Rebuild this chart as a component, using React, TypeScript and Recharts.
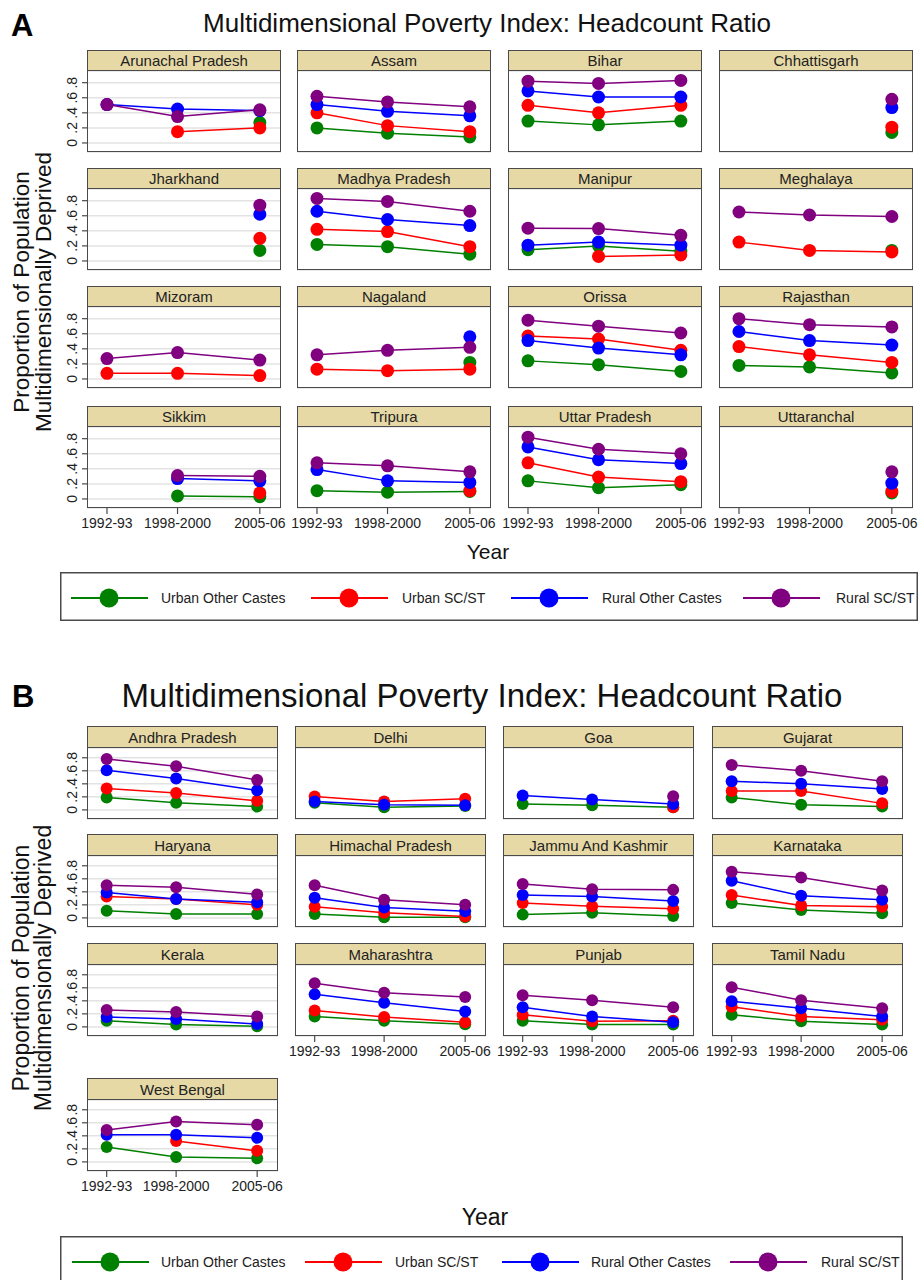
import React from 'react';
import { LineChart, Line, XAxis, YAxis, CartesianGrid } from 'recharts';

// ---- data ----
const years = [1993, 1999, 2006];
const yearLabels = ['1992-93', '1998-2000', '2005-06'];
const yTicks = [0, 0.2, 0.4, 0.6, 0.8];
const yTickLabels = ['0', '.2', '.4', '.6', '.8'];

const seriesKeys = ['urbanOther', 'urbanSC', 'ruralOther', 'ruralSC'];
const seriesNames = ['Urban Other Castes', 'Urban SC/ST', 'Rural Other Castes', 'Rural SC/ST'];
const seriesColors = ['#008000', '#ff0000', '#0000ff', '#800080'];

const statesA = [
  'Arunachal Pradesh', 'Assam', 'Bihar', 'Chhattisgarh',
  'Jharkhand', 'Madhya Pradesh', 'Manipur', 'Meghalaya',
  'Mizoram', 'Nagaland', 'Orissa', 'Rajasthan',
  'Sikkim', 'Tripura', 'Uttar Pradesh', 'Uttaranchal',
];
const statesB = [
  'Andhra Pradesh', 'Delhi', 'Goa', 'Gujarat',
  'Haryana', 'Himachal Pradesh', 'Jammu And Kashmir', 'Karnataka',
  'Kerala', 'Maharashtra', 'Punjab', 'Tamil Nadu',
  'West Bengal',
];

type V = (number | null)[];
const n = null;

const urbanOther: Record<string, V> = {
  'Arunachal Pradesh': [n, n, 0.27], 'Assam': [0.2, 0.13, 0.08], 'Bihar': [0.29, 0.24, 0.29], 'Chhattisgarh': [n, n, 0.14],
  'Jharkhand': [n, n, 0.14], 'Madhya Pradesh': [0.22, 0.19, 0.09], 'Manipur': [0.15, 0.2, 0.13], 'Meghalaya': [n, n, 0.14],
  'Mizoram': [n, n, n], 'Nagaland': [n, n, 0.22], 'Orissa': [0.24, 0.19, 0.1], 'Rajasthan': [0.18, 0.16, 0.08],
  'Sikkim': [n, 0.04, 0.03], 'Tripura': [0.11, 0.09, 0.1], 'Uttar Pradesh': [0.24, 0.15, 0.19], 'Uttaranchal': [n, n, 0.08],
  'Andhra Pradesh': [0.19, 0.11, 0.05], 'Delhi': [0.11, 0.04, 0.06], 'Goa': [0.09, 0.07, 0.04], 'Gujarat': [0.19, 0.08, 0.05],
  'Haryana': [0.11, 0.06, 0.06], 'Himachal Pradesh': [0.06, 0.01, 0.01], 'Jammu And Kashmir': [0.05, 0.08, 0.03], 'Karnataka': [0.23, 0.12, 0.07],
  'Kerala': [0.095, 0.035, 0.01], 'Maharashtra': [0.16, 0.095, 0.04], 'Punjab': [0.095, 0.035, 0.035], 'Tamil Nadu': [0.185, 0.085, 0.035],
  'West Bengal': [0.23, 0.075, 0.055],
};

const urbanSC: Record<string, V> = {
  'Arunachal Pradesh': [n, 0.15, 0.2], 'Assam': [0.4, 0.23, 0.15], 'Bihar': [0.5, 0.4, 0.5], 'Chhattisgarh': [n, n, 0.21],
  'Jharkhand': [n, n, 0.3], 'Madhya Pradesh': [0.42, 0.39, 0.19], 'Manipur': [n, 0.06, 0.08], 'Meghalaya': [0.25, 0.14, 0.12],
  'Mizoram': [0.075, 0.075, 0.045], 'Nagaland': [0.13, 0.11, 0.13], 'Orissa': [0.57, 0.53, 0.38], 'Rajasthan': [0.43, 0.32, 0.22],
  'Sikkim': [n, n, 0.08], 'Tripura': [n, n, 0.11], 'Uttar Pradesh': [0.48, 0.29, 0.23], 'Uttaranchal': [n, n, 0.1],
  'Andhra Pradesh': [0.33, 0.26, 0.14], 'Delhi': [0.205, 0.13, 0.17], 'Goa': [n, n, 0.04], 'Gujarat': [0.29, 0.29, 0.1],
  'Haryana': [0.33, 0.29, 0.2], 'Himachal Pradesh': [0.17, 0.08, 0.02], 'Jammu And Kashmir': [0.23, 0.18, 0.14], 'Karnataka': [0.35, 0.19, 0.17],
  'Kerala': [n, n, n], 'Maharashtra': [0.25, 0.15, 0.07], 'Punjab': [0.185, 0.085, 0.095], 'Tamil Nadu': [0.31, 0.16, 0.11],
  'West Bengal': [n, 0.32, 0.17],
};

const ruralOther: Record<string, V> = {
  'Arunachal Pradesh': [0.51, 0.45, 0.43], 'Assam': [0.51, 0.42, 0.36], 'Bihar': [0.69, 0.61, 0.61], 'Chhattisgarh': [n, n, 0.47],
  'Jharkhand': [n, n, 0.62], 'Madhya Pradesh': [0.66, 0.55, 0.47], 'Manipur': [0.21, 0.25, 0.21], 'Meghalaya': [n, n, n],
  'Mizoram': [n, n, n], 'Nagaland': [n, n, 0.56], 'Orissa': [0.51, 0.41, 0.32], 'Rajasthan': [0.63, 0.51, 0.45],
  'Sikkim': [n, 0.27, 0.24], 'Tripura': [0.39, 0.24, 0.22], 'Uttar Pradesh': [0.69, 0.52, 0.47], 'Uttaranchal': [n, n, 0.21],
  'Andhra Pradesh': [0.61, 0.48, 0.3], 'Delhi': [0.13, 0.08, 0.07], 'Goa': [0.22, 0.16, 0.09], 'Gujarat': [0.44, 0.4, 0.32],
  'Haryana': [0.39, 0.29, 0.24], 'Himachal Pradesh': [0.31, 0.16, 0.1], 'Jammu And Kashmir': [0.35, 0.33, 0.26], 'Karnataka': [0.57, 0.34, 0.28],
  'Kerala': [0.15, 0.12, 0.045], 'Maharashtra': [0.5, 0.37, 0.235], 'Punjab': [0.3, 0.16, 0.07], 'Tamil Nadu': [0.395, 0.285, 0.16],
  'West Bengal': [0.415, 0.415, 0.37],
};

const ruralSC: Record<string, V> = {
  'Arunachal Pradesh': [0.51, 0.35, 0.44], 'Assam': [0.62, 0.545, 0.48], 'Bihar': [0.82, 0.79, 0.83], 'Chhattisgarh': [n, n, 0.58],
  'Jharkhand': [n, n, 0.74], 'Madhya Pradesh': [0.83, 0.79, 0.66], 'Manipur': [0.435, 0.43, 0.34], 'Meghalaya': [0.65, 0.61, 0.59],
  'Mizoram': [0.27, 0.35, 0.25], 'Nagaland': [0.32, 0.38, 0.42], 'Orissa': [0.78, 0.7, 0.61], 'Rajasthan': [0.8, 0.72, 0.69],
  'Sikkim': [n, 0.31, 0.3], 'Tripura': [0.48, 0.44, 0.36], 'Uttar Pradesh': [0.82, 0.66, 0.6], 'Uttaranchal': [n, n, 0.36],
  'Andhra Pradesh': [0.78, 0.67, 0.46], 'Delhi': [n, n, n], 'Goa': [n, n, 0.21], 'Gujarat': [0.69, 0.6, 0.44],
  'Haryana': [0.5, 0.47, 0.36], 'Himachal Pradesh': [0.5, 0.28, 0.2], 'Jammu And Kashmir': [0.52, 0.44, 0.43], 'Karnataka': [0.71, 0.62, 0.42],
  'Kerala': [0.26, 0.23, 0.16], 'Maharashtra': [0.67, 0.525, 0.46], 'Punjab': [0.485, 0.41, 0.3], 'Tamil Nadu': [0.61, 0.41, 0.285],
  'West Bengal': [0.49, 0.62, 0.57],
};

const seriesData = [urbanOther, urbanSC, ruralOther, ruralSC];

// ---- layout ----
const FONT = '"Liberation Sans", Arial, Helvetica, sans-serif';
const STRIP = '#e6d9a6';
const FRAME = '#4a4a4a';
const LEFT = 40;
const RIGHT = 30;
const BOTTOM = 30;
const xDomain = [1991.3, 2007.8];

const YTick = (props: any) => {
  const { x, y, payload } = props;
  const i = yTicks.indexOf(payload.value);
  return (
    <text x={x} y={y} transform={`rotate(-90 ${x} ${y})`} textAnchor="middle" fontSize={14} fill="#222" fontFamily={FONT}>
      {yTickLabels[i] ?? ''}
    </text>
  );
};

interface FacetProps {
  state: string;
  x: number;
  y: number;
  w: number;
  stripH: number;
  plotH: number;
  yDomain: number[];
  showX: boolean;
  showY: boolean;
  r: number;
}

const Facet: React.FC<FacetProps> = ({ state, x, y, w, stripH, plotH, yDomain, showX, showY, r }) => {
  const data = years.map((yr, i) => {
    const row: any = { year: yr };
    seriesKeys.forEach((k, s) => {
      const v = seriesData[s][state];
      row[k] = v ? v[i] : null;
    });
    return row;
  });
  return (
    <>
      <div
        style={{
          position: 'absolute', left: x, top: y, width: w, height: stripH, background: STRIP,
          border: `1.5px solid ${FRAME}`, boxSizing: 'border-box', display: 'flex', alignItems: 'center',
          justifyContent: 'center', fontSize: 15, color: '#222', fontFamily: FONT,
        }}
      >
        {state}
      </div>
      <div style={{ position: 'absolute', left: x - LEFT, top: y + stripH }}>
        <LineChart width={w + LEFT + RIGHT} height={plotH + BOTTOM} data={data} margin={{ top: 0, right: RIGHT, left: 0, bottom: 0 }}>
          <CartesianGrid vertical={false} stroke="#e3e3e3" strokeWidth={1.5} />
          <XAxis
            dataKey="year"
            type="number"
            domain={xDomain}
            ticks={years}
            allowDataOverflow
            interval={0}
            height={BOTTOM}
            axisLine={false}
            tickSize={6}
            tickMargin={4}
            tickLine={showX ? { stroke: FRAME, strokeWidth: 1.2 } : false}
            tick={showX ? { fontSize: 14, fill: '#222', fontFamily: FONT } : false}
            tickFormatter={(v: number) => yearLabels[years.indexOf(v)] ?? ''}
          />
          <YAxis
            type="number"
            domain={yDomain}
            ticks={yTicks}
            allowDataOverflow
            interval={0}
            width={LEFT}
            axisLine={false}
            tickSize={5}
            tickMargin={5}
            tickLine={showY ? { stroke: FRAME, strokeWidth: 1.2 } : false}
            tick={showY ? <YTick /> : false}
          />
          {seriesKeys.map((k, s) => (
            <Line
              key={k}
              dataKey={k}
              type="linear"
              stroke={seriesColors[s]}
              strokeWidth={1.5}
              dot={{ r, fill: seriesColors[s], stroke: seriesColors[s], strokeWidth: 0 }}
              activeDot={false}
              connectNulls={false}
              isAnimationActive={false}
            />
          ))}
        </LineChart>
      </div>
      <div
        style={{
          position: 'absolute', left: x, top: y + stripH - 1.5, width: w, height: plotH + 1.5,
          border: `1.5px solid ${FRAME}`, boxSizing: 'border-box', pointerEvents: 'none',
        }}
      />
    </>
  );
};

interface LegendProps {
  top: number;
  left: number;
  width: number;
  height: number;
  markers: number[];
  texts: number[];
}

const LegendBox: React.FC<LegendProps> = ({ top, left, width, height, markers, texts }) => {
  const cy = 26;
  return (
    <svg style={{ position: 'absolute', left, top }} width={width} height={height}>
      <rect x={0.75} y={0.75} width={width - 1.5} height={height - 1.5} fill="#fff" stroke={FRAME} strokeWidth={1.5} />
      {seriesNames.map((name, s) => (
        <g key={name}>
          <line x1={markers[s] - left - 38} x2={markers[s] - left + 39} y1={cy} y2={cy} stroke={seriesColors[s]} strokeWidth={1.8} />
          <circle cx={markers[s] - left} cy={cy} r={9.5} fill={seriesColors[s]} />
          <text x={texts[s] - left} y={cy + 5} fontSize={14} fill="#222" fontFamily={FONT}>{name}</text>
        </g>
      ))}
    </svg>
  );
};

const colsA = [87, 297, 508, 719];
const rowsA = [50, 168, 286, 406];
const colsB = [87, 295, 503, 712];
const rowsB = [726, 834, 943, 1078];

export default function App() {
  return (
    <div style={{ position: 'absolute', left: 0, top: 0, width: 921, height: 1280, overflow: 'hidden', background: '#fff', fontFamily: FONT }}>
      <svg style={{ position: 'absolute', left: 0, top: 0 }} width={921} height={1280}>
        <text x={11} y={36} fontSize={31} fontWeight="bold" fill="#000" fontFamily={FONT}>A</text>
        <text x={487} y={32} fontSize={26} textAnchor="middle" fill="#111" fontFamily={FONT}>Multidimensional Poverty Index: Headcount Ratio</text>
        <text x={12} y={707} fontSize={31} fontWeight="bold" fill="#000" fontFamily={FONT}>B</text>
        <text x={482} y={707} fontSize={33} textAnchor="middle" fill="#111" fontFamily={FONT}>Multidimensional Poverty Index: Headcount Ratio</text>
        <g transform="translate(29 292) rotate(-90)">
          <text x={0} y={0} fontSize={22.5} textAnchor="middle" fill="#111" fontFamily={FONT}>Proportion of Population</text>
          <text x={0} y={22} fontSize={22.5} textAnchor="middle" fill="#111" fontFamily={FONT}>Multidimensionally Deprived</text>
        </g>
        <g transform="translate(29 968) rotate(-90)">
          <text x={0} y={0} fontSize={23} textAnchor="middle" fill="#111" fontFamily={FONT}>Proportion of Population</text>
          <text x={0} y={22} fontSize={23} textAnchor="middle" fill="#111" fontFamily={FONT}>Multidimensionally Deprived</text>
        </g>
        <text x={488} y={559} fontSize={21} textAnchor="middle" fill="#111" fontFamily={FONT}>Year</text>
        <text x={485} y={1225} fontSize={23} textAnchor="middle" fill="#111" fontFamily={FONT}>Year</text>
      </svg>

      {statesA.map((st, i) => (
        <Facet
          key={st}
          state={st}
          x={colsA[i % 4]}
          y={rowsA[Math.floor(i / 4)]}
          w={194}
          stripH={21}
          plotH={81}
          yDomain={[-0.12, 0.955]}
          showX={i + 4 >= statesA.length}
          showY={i % 4 === 0}
          r={6.5}
        />
      ))}

      {statesB.map((st, i) => (
        <Facet
          key={st}
          state={st}
          x={colsB[i % 4]}
          y={rowsB[Math.floor(i / 4)]}
          w={191}
          stripH={22}
          plotH={71}
          yDomain={[-0.14, 0.95]}
          showX={i + 4 >= statesB.length}
          showY={i % 4 === 0}
          r={6}
        />
      ))}

      <LegendBox top={572} left={60} width={858} height={49} markers={[109, 349, 549, 781]} texts={[161, 402, 602, 836]} />
      <LegendBox top={1236} left={60} width={843} height={52} markers={[110, 343, 540, 768]} texts={[161, 395, 591, 821]} />
    </div>
  );
}
